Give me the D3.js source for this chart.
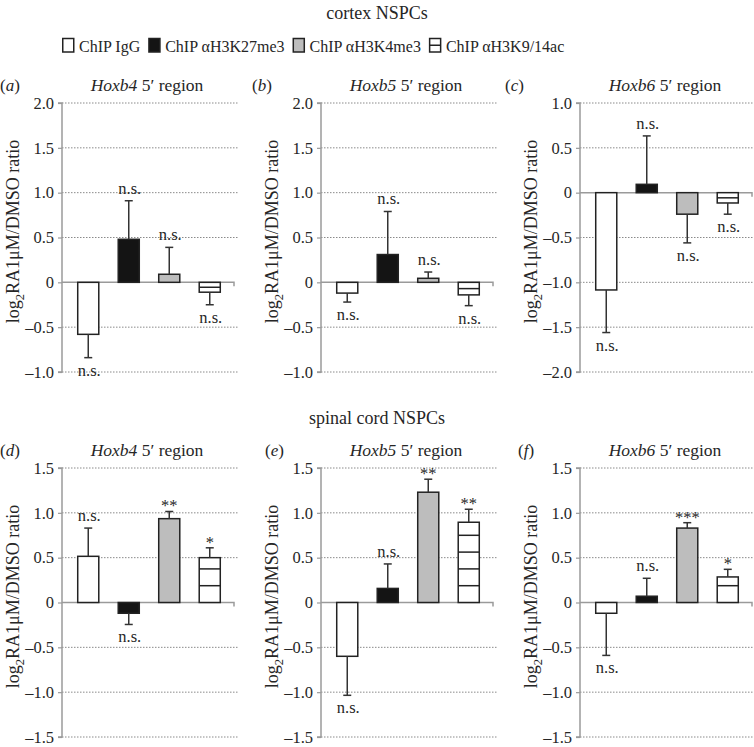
<!DOCTYPE html>
<html>
<head>
<meta charset="utf-8">
<script src="https://cdn.jsdelivr.net/npm/d3@7"></script>
<style>
  html, body { margin: 0; padding: 0; background: #fff; }
  svg text { font-family: "Liberation Serif", "DejaVu Serif", serif; fill: #262626; }
</style>
</head>
<body>
<svg id="chart" width="754" height="747" font-family="Liberation Serif"></svg>
<script>
// ---------- data ----------
const series = ["ChIP IgG", "ChIP \u03b1H3K27me3", "ChIP \u03b1H3K4me3", "ChIP \u03b1H3K9/14ac"];
const panelLetters = ["a", "b", "c", "d", "e", "f"];
const panelGenes = ["Hoxb4", "Hoxb5", "Hoxb6", "Hoxb4", "Hoxb5", "Hoxb6"];
const groupTitles = ["cortex NSPCs", "spinal cord NSPCs"];

// means (IgG, K27me3, K4me3, K9/14ac) and error magnitudes
const meansA = [-0.58, 0.48, 0.09, -0.11];
const errsA  = [0.26, 0.43, 0.30, 0.14];
const meansB = [-0.12, 0.31, 0.045, -0.14];
const errsB  = [0.10, 0.48, 0.07, 0.12];
const meansC = [-1.085, 0.093, -0.24, -0.115];
const errsC  = [0.475, 0.54, 0.32, 0.125];
const meansD = [0.515, -0.12, 0.935, 0.50];
const errsD  = [0.315, 0.125, 0.08, 0.11];
const meansE = [-0.60, 0.157, 1.23, 0.895];
const errsE  = [0.435, 0.273, 0.145, 0.145];
const meansF = [-0.12, 0.07, 0.83, 0.285];
const errsF  = [0.47, 0.20, 0.06, 0.085];

// significance labels
const sigA = ["n.s.", "n.s.", "n.s.", "n.s."];
const sigB = ["n.s.", "n.s.", "n.s.", "n.s."];
const sigC = ["n.s.", "n.s.", "n.s.", "n.s."];
const sigD = ["n.s.", "n.s.", "**", "*"];
const sigE = ["n.s.", "n.s.", "**", "**"];
const sigF = ["n.s.", "n.s.", "***", "*"];

// y domains and tick values
const domainTop = [-1, 2];
const domainTopC = [-2, 1];
const domainBottom = [-1.5, 1.5];
const ticksTop = [-1, -0.5, 0, 0.5, 1, 1.5, 2];
const ticksTopC = [-2, -1.5, -1, -0.5, 0, 0.5, 1];
const ticksBottom = [-1.5, -1, -0.5, 0, 0.5, 1, 1.5];

const panels = [
  { means: meansA, errs: errsA, sig: sigA, domain: domainTop,    ticks: ticksTop },
  { means: meansB, errs: errsB, sig: sigB, domain: domainTop,    ticks: ticksTop },
  { means: meansC, errs: errsC, sig: sigC, domain: domainTopC,   ticks: ticksTopC },
  { means: meansD, errs: errsD, sig: sigD, domain: domainBottom, ticks: ticksBottom },
  { means: meansE, errs: errsE, sig: sigE, domain: domainBottom, ticks: ticksBottom },
  { means: meansF, errs: errsF, sig: sigF, domain: domainBottom, ticks: ticksBottom },
];

// ---------- layout ----------
const colX = [62, 321, 580];
const rowY = [103, 468];
const plotW = 174, plotH = 269;
const letterX = [[0, 252, 505], [0, 265, 518]];
const fills = ["#ffffff", "#141414", "#bdbdbd", "#ffffff"];
const FONT = "Liberation Serif";

const svg = d3.select("#chart");

// titles
svg.append("text").attr("x", 377).attr("y", 19).attr("text-anchor", "middle")
  .style("font-size", "18px").text(groupTitles[0]);
svg.append("text").attr("x", 377).attr("y", 424).attr("text-anchor", "middle")
  .style("font-size", "18px").text(groupTitles[1]);

// legend
const leg = svg.append("g").attr("transform", "translate(62,47)");
let lx = 0;
series.forEach((s, i) => {
  const g = leg.append("g").attr("transform", `translate(${lx},0)`);
  g.append("rect").attr("x", 0.75).attr("y", -8.5).attr("width", 11).attr("height", 13.5)
    .attr("fill", fills[i]).attr("stroke", "#222").attr("stroke-width", 1.5);
  if (i === 3) {
    g.append("line").attr("x1", 0.75).attr("x2", 11.75).attr("y1", -1.75).attr("y2", -1.75)
      .attr("stroke", "#222").attr("stroke-width", 1.5);
  }
  const t = g.append("text").attr("x", 17).attr("y", 4.5).style("font-size", "16px")
    .attr("font-family", FONT).text(s);
  lx += 17 + t.node().getComputedTextLength() + 8;
});

function fmt(v) {
  if (v === 0) return "0";
  return (v < 0 ? "\u2013" : "") + Math.abs(v).toFixed(1);
}

panels.forEach((p, pi) => {
  const row = Math.floor(pi / 3), col = pi % 3;
  const x0 = colX[col], y0 = rowY[row];
  const y = d3.scaleLinear().domain(p.domain).range([y0 + plotH, y0]);
  const x = d3.scaleBand().domain(series).range([x0 + 6, x0 + 168])
    .paddingInner(0.48).paddingOuter(0.24);
  const g = svg.append("g");

  // grid lines (dotted)
  g.selectAll("line.grid").data(p.ticks.filter(t => t !== 0)).enter().append("line")
    .attr("x1", x0).attr("x2", x0 + plotW + 2)
    .attr("y1", d => y(d)).attr("y2", d => y(d))
    .attr("stroke", "#8a8a8a").attr("stroke-width", 1).attr("stroke-dasharray", "1.5,1.5");

  // y axis
  const axis = d3.axisLeft(y).tickValues(p.ticks).tickSize(4).tickPadding(4).tickFormat(fmt);
  const ag = g.append("g").attr("transform", `translate(${x0},0)`).call(axis)
    .attr("font-family", FONT);
  ag.select(".domain").attr("stroke", "#9a9a9a").attr("stroke-width", 1.5)
    .attr("d", `M-4,${y0}H0V${y0 + plotH}H-4`);
  ag.selectAll(".tick line").attr("stroke", "#9a9a9a").attr("stroke-width", 1.2);
  ag.selectAll(".tick text").style("font-size", "16.5px").style("font-family", FONT).attr("fill", "#262626");

  // zero line
  g.append("path").attr("d", `M${x0},${y(0)}H${x0 + plotW - 2}v4`)
    .attr("fill", "none").attr("stroke", "#9a9a9a").attr("stroke-width", 1.5);

  // bars
  const data = series.map((s, i) => ({ s, i, m: p.means[i], e: p.errs[i], sig: p.sig[i] }));
  data.forEach(d => {
    const bx = x(d.s), bw = x.bandwidth();
    const yTop = y(Math.max(0, d.m)), yBot = y(Math.min(0, d.m));
    g.append("rect").attr("x", bx).attr("y", yTop).attr("width", bw).attr("height", yBot - yTop)
      .attr("fill", fills[d.i]).attr("stroke", "#222").attr("stroke-width", 1.5);
    if (d.i === 3) {
      const zy = y(0);
      const step = 16.8;
      if (d.m > 0) {
        for (let hy = zy - step; hy > yTop + 2; hy -= step) {
          g.append("line").attr("x1", bx).attr("x2", bx + bw).attr("y1", hy).attr("y2", hy)
            .attr("stroke", "#222").attr("stroke-width", 1.5);
        }
      } else {
        const hy = (yTop + yBot) / 2;
        g.append("line").attr("x1", bx).attr("x2", bx + bw).attr("y1", hy).attr("y2", hy)
          .attr("stroke", "#222").attr("stroke-width", 1.5);
      }
    }
    // error bar (one-sided, away from zero)
    const sign = d.m >= 0 ? 1 : -1;
    const cx = bx + bw / 2;
    const yStart = y(d.m), yEnd = y(d.m + sign * d.e);
    g.append("line").attr("x1", cx).attr("x2", cx).attr("y1", yStart).attr("y2", yEnd)
      .attr("stroke", "#333").attr("stroke-width", 1.5);
    g.append("line").attr("x1", cx - 4).attr("x2", cx + 4).attr("y1", yEnd).attr("y2", yEnd)
      .attr("stroke", "#333").attr("stroke-width", 1.5);
    // significance label
    const isStar = d.sig.indexOf("*") >= 0;
    let ty;
    if (sign > 0) ty = yEnd - (isStar ? 0 : 7);
    else ty = yEnd + 18;
    g.append("text").attr("x", cx + (isStar ? 0 : 1)).attr("y", ty).attr("text-anchor", "middle")
      .style("font-size", "16.5px")
      .attr("fill", isStar ? "#555" : "#262626")
      .text(d.sig);
  });

  // y label
  const yl = g.append("text")
    .attr("transform", `translate(${x0 - 43},${y0 + plotH / 2 - 6}) rotate(-90)`)
    .attr("text-anchor", "middle").style("font-size", "18px");
  yl.append("tspan").text("log");
  yl.append("tspan").attr("dy", 4.5).style("font-size", "12.5px").text("2");
  yl.append("tspan").attr("dy", -4.5).text("RA1\u03bcM/DMSO ratio");

  // panel letter
  const lt = svg.append("text").attr("x", letterX[row][col]).attr("y", y0 - 12)
    .style("font-size", "17px");
  lt.append("tspan").text("(");
  lt.append("tspan").style("font-style", "italic").text(panelLetters[pi]);
  lt.append("tspan").text(")");

  // panel title
  const tt = svg.append("text").attr("x", x0 + plotW / 2 - 2).attr("y", y0 - 12)
    .attr("text-anchor", "middle").style("font-size", "17.5px");
  tt.append("tspan").style("font-style", "italic").text(panelGenes[pi]);
  tt.append("tspan").text(" 5\u2032 region");
});

// make sure every text uses the serif face
svg.selectAll("text").attr("font-family", FONT).style("font-family", FONT);
</script>
</body>
</html>
